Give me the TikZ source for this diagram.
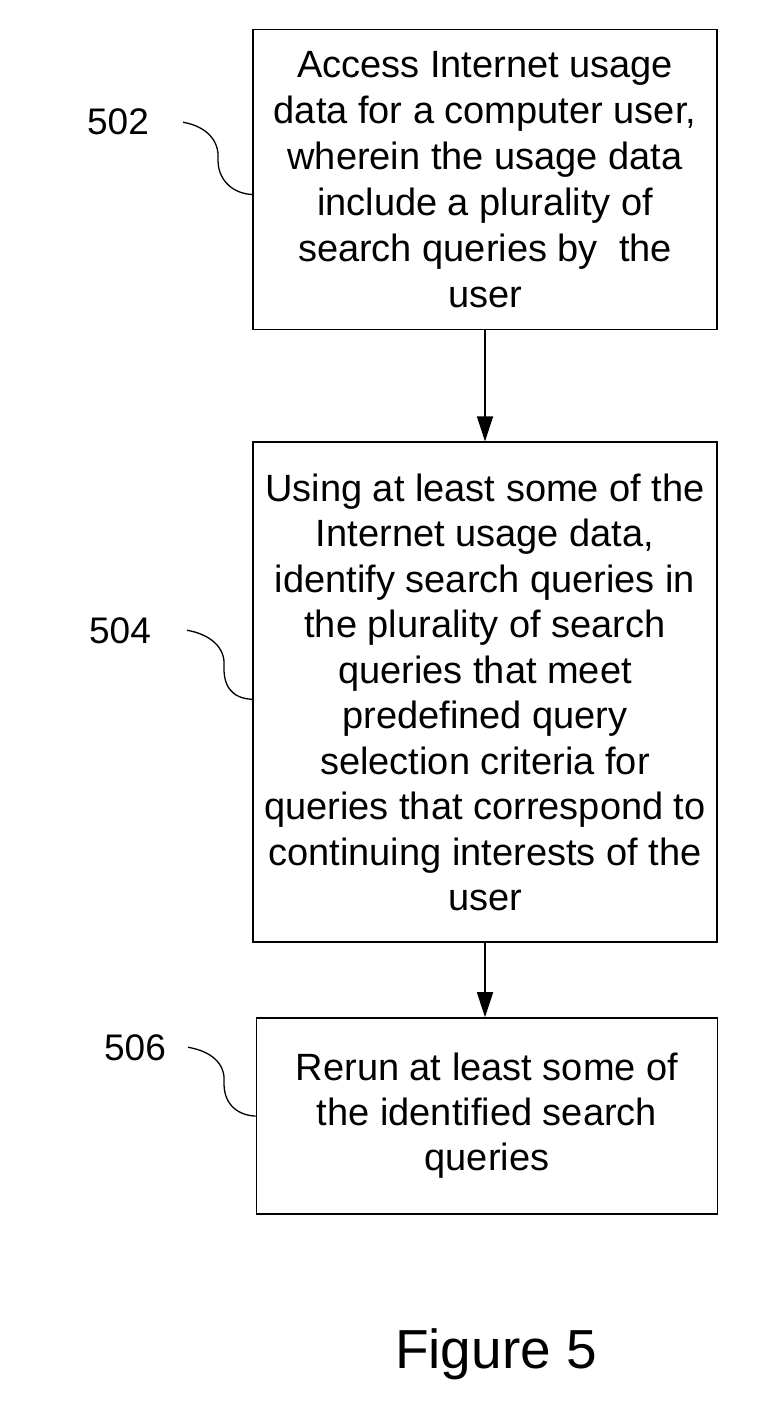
\documentclass[tikz,border=0pt]{standalone}
\usepackage{fontspec}
\setmainfont{Liberation Sans}
\usetikzlibrary{
  arrows.meta,
  positioning,
}
\tikzset{
  >={Triangle[length=25pt,width=16pt]},
  stepbox/.style={draw,rectangle,line width=1.8pt,minimum width=464,inner sep=0pt,align=center},
  reflabel/.style={inner sep=0pt,anchor=base,font=\fontsize{37}{44}\selectfont},
  squiggle/.style={line width=1.3pt},
}

\begin{document}
\begin{tikzpicture}[x=1pt,y=-1pt]
    \useasboundingbox (0,0) rectangle (771,1404);

        \node[stepbox,minimum height=300,font=\fontsize{38}{46}\selectfont]    (s502)    at (485,179.5)    {Access Internet usage\\data for a computer user,\\wherein the usage data\\include a plurality of\\search queries by~ the\\user};
        \node[stepbox,minimum height=500,font=\fontsize{38}{45.5}\selectfont]    (s504)    [below=111pt of s502]    {Using at least some of the\\Internet usage data,\\identify search queries in\\the plurality of search\\queries that meet\\predefined query\\selection criteria for\\queries that correspond to\\continuing interests of the\\user};
        \node[stepbox,minimum height=196,minimum width=461,xshift=2pt,font=\fontsize{38}{45}\selectfont]    (s506)    [below=74pt of s504]    {Rerun at least some of\\the identified search\\queries};

        \node[reflabel]    (l502)    at (118,135)    {502};
        \node[reflabel]    (l504)    at (120,643)    {504};
        \node[reflabel]    (l506)    at (135,1060)   {506};

        \node[inner sep=0pt,anchor=base,font=\fontsize{55}{60}\selectfont]    (fig5)    at (496,1368)    {Figure 5};

        % leader lines from the numbers to the boxes
        \coordinate (t502) at ([xshift=34pt]l502.east);
        \coordinate (t504) at ([xshift=36pt]l504.east);
        \coordinate (t506) at ([xshift=22pt]l506.east);
        \coordinate (e502) at ([yshift=-15pt]s502.west);
        \coordinate (e504) at ([yshift=-7pt]s504.west);
        \coordinate (e506) at (s506.west);

        \draw[squiggle] (t502) .. controls +(23,4) and +(1,-18) .. +(35,36) .. controls +(-1,20) and +(-21,-1) .. (e502);
        \draw[squiggle] (t504) .. controls +(23,4) and +(1,-18) .. +(37,35) .. controls +(-1,20) and +(-21,-1) .. (e504);
        \draw[squiggle] (t506) .. controls +(23,4) and +(1,-18) .. +(36,34) .. controls +(-1,20) and +(-21,-1) .. (e506);

        \draw[->,line width=1.8pt] (s502.south) -- (s504.north);
        \draw[->,line width=1.8pt] (s504.south) -- (s504.south |- s506.north);

    \end{tikzpicture}
\end{document}
